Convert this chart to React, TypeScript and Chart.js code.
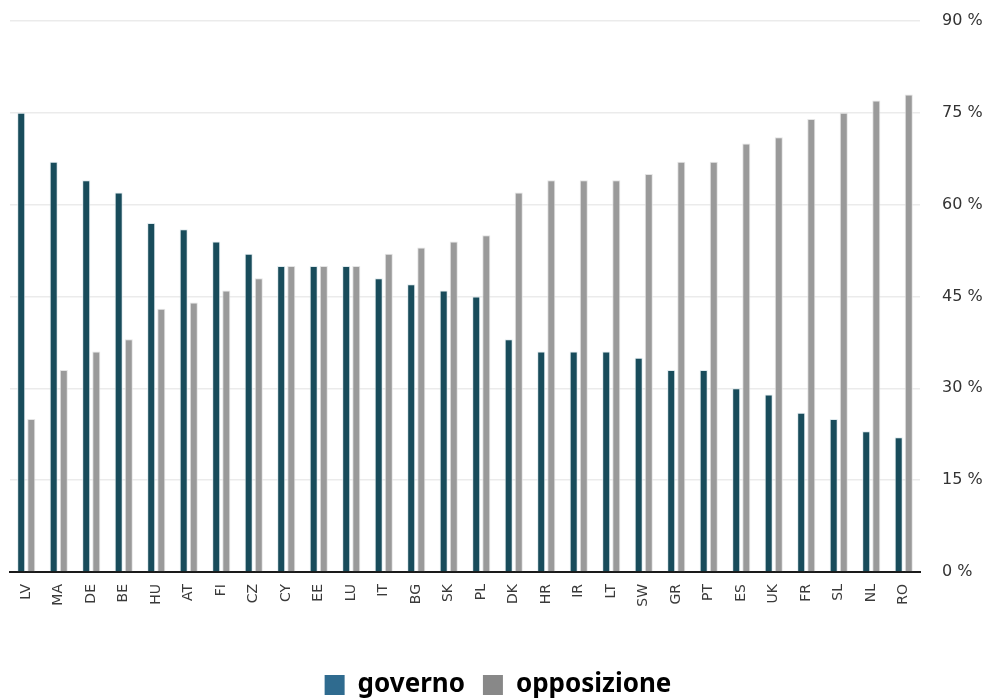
import React, { useEffect, useRef } from "react";
import { Chart, registerables } from "chart.js";

Chart.register(...registerables);

const countries = [
  "LV", "MA", "DE", "BE", "HU", "AT", "FI", "CZ", "CY", "EE", "LU", "IT", "BG", "SK",
  "PL", "DK", "HR", "IR", "LT", "SW", "GR", "PT", "ES", "UK", "FR", "SL", "NL", "RO",
];

const governo = [75, 67, 64, 62, 57, 56, 54, 52, 50, 50, 50, 48, 47, 46, 45, 38, 36, 36, 36, 35, 33, 33, 30, 29, 26, 25, 23, 22];
const opposizione = [25, 33, 36, 38, 43, 44, 46, 48, 50, 50, 50, 52, 53, 54, 55, 62, 64, 64, 64, 65, 67, 67, 70, 71, 74, 75, 77, 78];

const yTicks = [0, 15, 30, 45, 60, 75, 90];

const governoBar = "#184c5b";
const governoKey = "#2f6b8f";
const opposizioneBar = "#9a9a9a";
const opposizioneKey = "#888888";

export default function App() {
  const canvasRef = useRef<HTMLCanvasElement | null>(null);

  useEffect(() => {
    document.body.style.margin = "0";
    const canvas = canvasRef.current;
    if (!canvas) return;
    const chart = new Chart(canvas, {
      type: "bar",
      data: {
        labels: countries,
        datasets: [
          {
            label: "governo",
            data: governo,
            backgroundColor: governoBar,
            borderColor: "rgba(220,232,236,0.9)",
            borderWidth: 1,
            categoryPercentage: 0.62,
            barPercentage: 0.8,
          },
          {
            label: "opposizione",
            data: opposizione,
            backgroundColor: opposizioneBar,
            borderColor: "rgba(225,225,225,0.9)",
            borderWidth: 1,
            categoryPercentage: 0.62,
            barPercentage: 0.8,
          },
        ],
      },
      options: {
        animation: false,
        responsive: false,
        maintainAspectRatio: false,
        layout: { padding: { left: 10, right: 2, top: 21, bottom: -10 } },
        plugins: {
          tooltip: { enabled: false },
          legend: {
            position: "bottom",
            labels: {
              color: "#111",
              font: { family: "'Noto Sans', sans-serif", size: 26, weight: "bold" },
              boxWidth: 20,
              boxHeight: 20,
              padding: 18,
              generateLabels: () => [
                { text: "governo", fillStyle: governoKey, strokeStyle: governoKey, lineWidth: 0, datasetIndex: 0, hidden: false },
                { text: "opposizione", fillStyle: opposizioneKey, strokeStyle: opposizioneKey, lineWidth: 0, datasetIndex: 1, hidden: false },
              ],
            },
          },
        },
        scales: {
          x: {
            grid: { display: false, drawTicks: false },
            border: { color: "#1a1a1a", width: 2 },
            afterFit: (axis: any) => {
              axis.height = 82;
            },
            ticks: {
              color: "#3a3a3a",
              font: { family: "'DejaVu Sans', sans-serif", size: 14 },
              maxRotation: 90,
              minRotation: 90,
              padding: 12,
              autoSkip: false,
            },
          },
          y: {
            position: "right",
            min: 0,
            max: 90,
            afterBuildTicks: (axis: any) => {
              axis.ticks = yTicks.map((v) => ({ value: v }));
            },
            afterFit: (axis: any) => {
              axis.width = 66;
            },
            grid: { color: "#ebebeb", lineWidth: 1.5, tickLength: 22, tickColor: "rgba(0,0,0,0)" },
            border: { display: false },
            ticks: {
              color: "#333",
              font: { family: "'DejaVu Sans', sans-serif", size: 16, lineHeight: 1 },
              padding: 0,
              callback: (v: any) => `${v} %`,
            },
          },
        },
      },
    });
    return () => chart.destroy();
  }, []);

  return (
    <div style={{ width: 988, height: 698 }}>
      <canvas ref={canvasRef} width={988} height={698} style={{ display: "block" }} />
    </div>
  );
}
